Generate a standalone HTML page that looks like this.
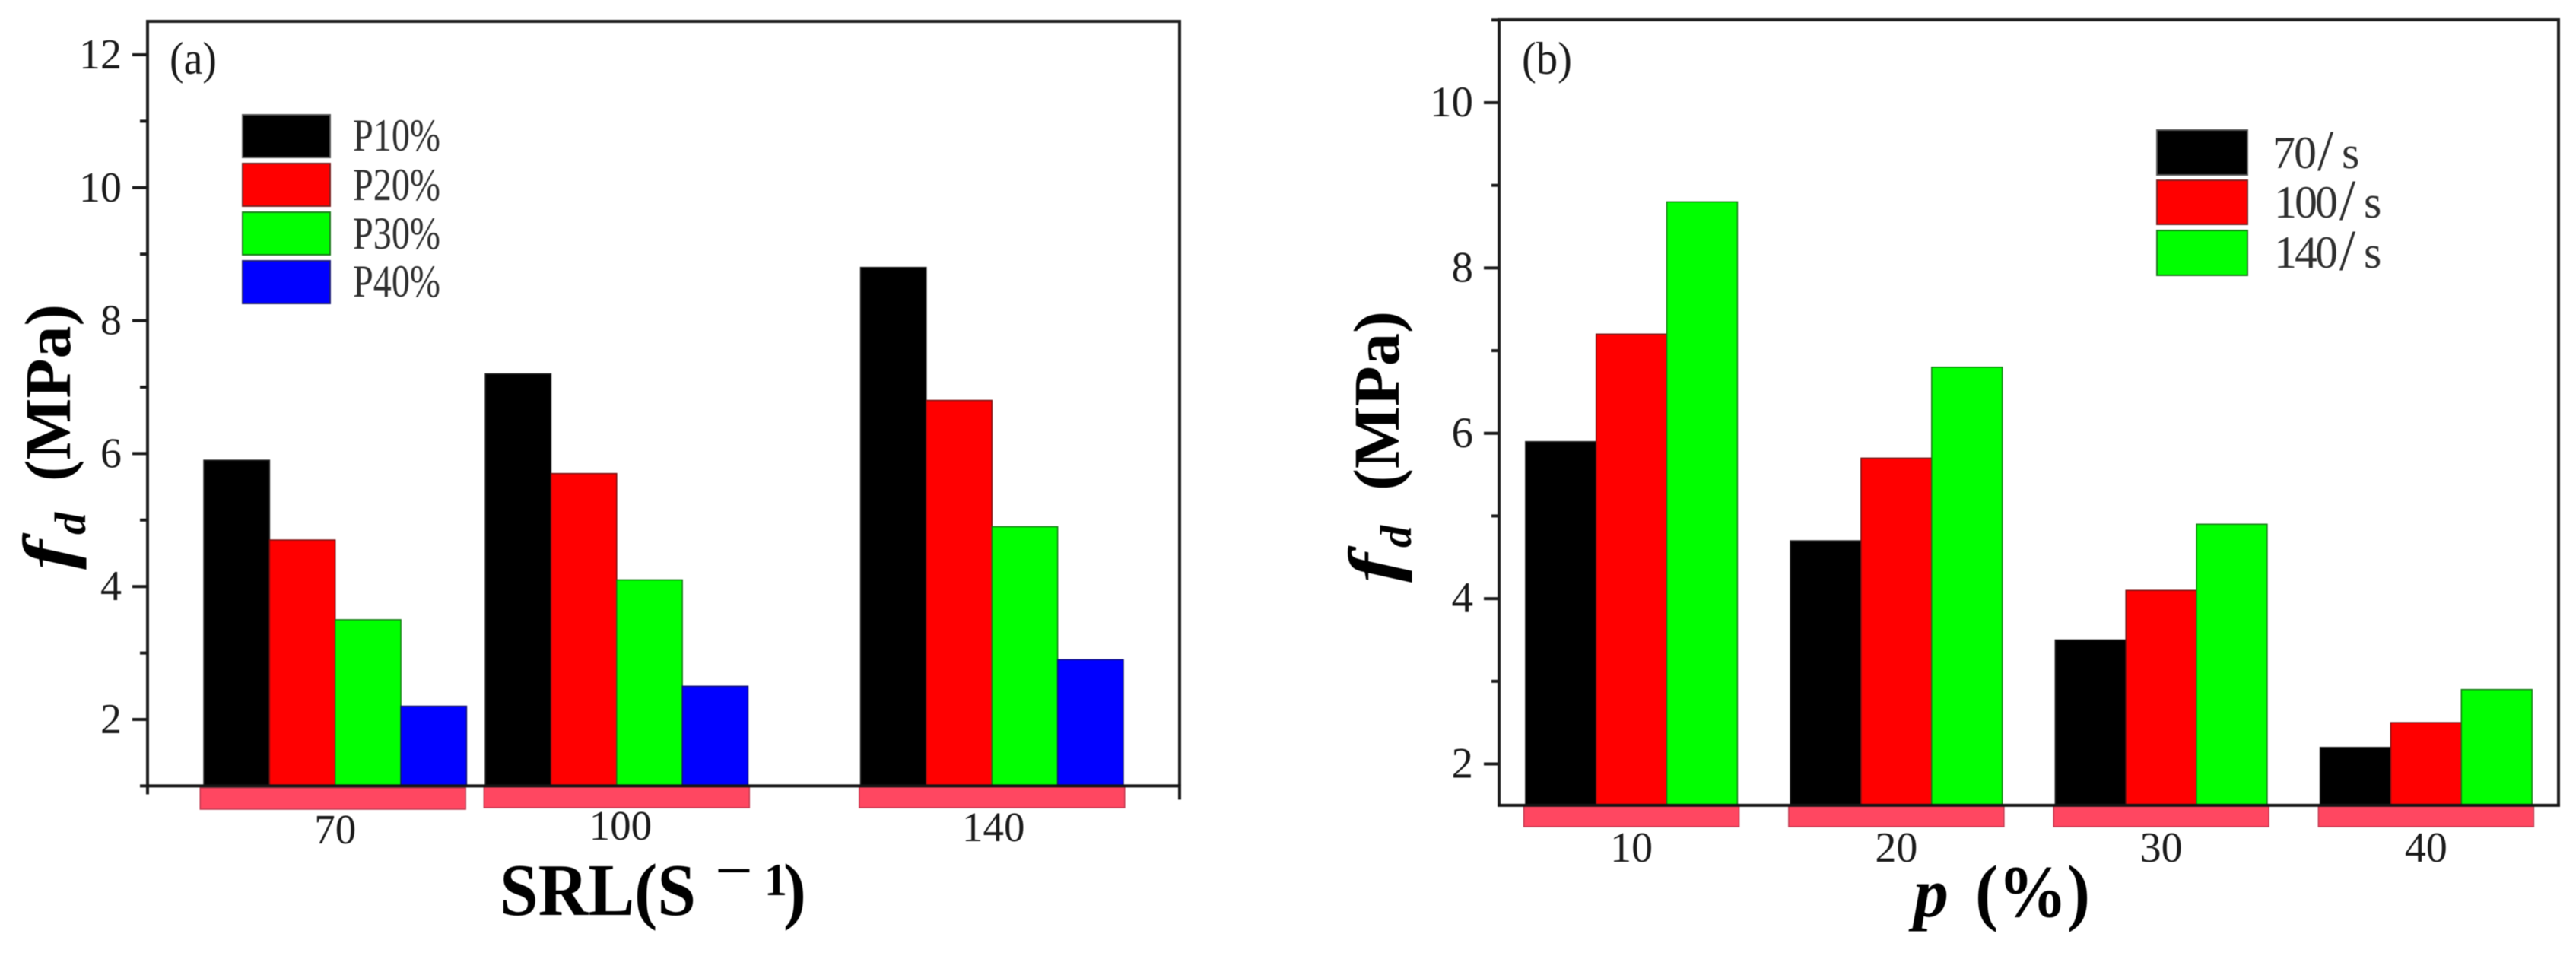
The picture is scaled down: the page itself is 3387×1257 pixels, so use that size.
<!DOCTYPE html>
<html lang="en">
<head>
<meta charset="utf-8">
<title>fd versus SRL and p bar charts</title>
<style>
html,body{margin:0;padding:0;background:#fff;width:3387px;height:1257px;overflow:hidden}
svg{display:block}
text{font-family:"Liberation Serif",serif;fill:#1a1a1a}
.legend-text{fill:#2e2e2e}
.bold{font-weight:bold;fill:#000}
.bolditalic{font-weight:bold;font-style:italic;fill:#000}
</style>
</head>
<body>
<svg id="fig" xmlns="http://www.w3.org/2000/svg" width="3387" height="1257" viewBox="0 0 3387 1257">
  <g id="root" style="filter:blur(0.6px)">
    <rect x="0" y="0" width="3387" height="1257" fill="#fff"/>
    <g id="panelA"></g>
    <g id="panelB"></g>

    <text x="223" y="97" font-size="60" textLength="62" lengthAdjust="spacingAndGlyphs">(a)</text>
    <text x="2001" y="97" font-size="60" textLength="66" lengthAdjust="spacingAndGlyphs">(b)</text>

    <g>
      <text class="bolditalic" transform="translate(94,749) rotate(-90) scale(1.27,1)" font-size="92">f</text>
      <text class="bolditalic" transform="translate(112,703) rotate(-90)" font-size="58">d</text>
      <text class="bold" transform="translate(92,633) rotate(-90)" font-size="86" textLength="233" lengthAdjust="spacingAndGlyphs">(MPa)</text>
    </g>
    <g>
      <text class="bolditalic" transform="translate(1837,766) rotate(-90) scale(1.27,1)" font-size="92">f</text>
      <text class="bolditalic" transform="translate(1855,720) rotate(-90)" font-size="58">d</text>
      <text class="bold" transform="translate(1839,645) rotate(-90)" font-size="86" textLength="236" lengthAdjust="spacingAndGlyphs">(MPa)</text>
    </g>

    <g>
      <text class="bold" x="657" y="1203" font-size="97" textLength="258" lengthAdjust="spacingAndGlyphs">SRL(S</text>
      <text x="940" y="1174" font-size="88" style="fill:#000">−</text>
      <text class="bold" x="1005" y="1177" font-size="60">1</text>
      <text class="bold" x="1030" y="1203" font-size="97" textLength="30" lengthAdjust="spacingAndGlyphs">)</text>
    </g>
    <g>
      <text class="bolditalic" x="2516" y="1205" font-size="92" textLength="46" lengthAdjust="spacingAndGlyphs">p</text>
      <text class="bold" x="2597" y="1205" font-size="97" textLength="151" lengthAdjust="spacingAndGlyphs">(%)</text>
    </g>

    <g>
      <rect x="319" y="151" width="115" height="56" fill="#000" stroke="#555" stroke-width="2"/>
      <text class="legend-text" x="464" y="198" font-size="60" textLength="115" lengthAdjust="spacingAndGlyphs">P10%</text>
      <rect x="319" y="215" width="115" height="56" fill="#f00" stroke="#7a2020" stroke-width="2"/>
      <text class="legend-text" x="464" y="263" font-size="60" textLength="115" lengthAdjust="spacingAndGlyphs">P20%</text>
      <rect x="319" y="279" width="115" height="56" fill="#0f0" stroke="#1c7a1c" stroke-width="2"/>
      <text class="legend-text" x="464" y="327" font-size="60" textLength="115" lengthAdjust="spacingAndGlyphs">P30%</text>
      <rect x="319" y="343" width="115" height="56" fill="#00f" stroke="#20207a" stroke-width="2"/>
      <text class="legend-text" x="464" y="390" font-size="60" textLength="115" lengthAdjust="spacingAndGlyphs">P40%</text>
    </g>

    <g>
      <rect x="2836" y="171" width="119" height="59" fill="#000" stroke="#555" stroke-width="2"/>
      <text class="legend-text" y="221" font-size="60"><tspan x="2988 3016">70</tspan><tspan x="3047" font-size="76" dy="3">/</tspan><tspan x="3079" dy="-3">s</tspan></text>
      <rect x="2836" y="237" width="119" height="58" fill="#f00" stroke="#7a2020" stroke-width="2"/>
      <text class="legend-text" y="286" font-size="60"><tspan x="2990 3017 3044">100</tspan><tspan x="3076" font-size="76" dy="3">/</tspan><tspan x="3108" dy="-3">s</tspan></text>
      <rect x="2836" y="303" width="119" height="59" fill="#0f0" stroke="#1c7a1c" stroke-width="2"/>
      <text class="legend-text" y="352" font-size="60"><tspan x="2990 3017 3044">140</tspan><tspan x="3076" font-size="76" dy="3">/</tspan><tspan x="3108" dy="-3">s</tspan></text>
    </g>
  </g>
</svg>
<script>
// Panel (a) data
const srlCategories = [70, 100, 140];
const p10Values = [5.9, 7.2, 8.8];
const p20Values = [4.7, 5.7, 6.8];
const p30Values = [3.5, 4.1, 4.9];
const p40Values = [2.2, 2.5, 2.9];
const panelAMajorTicks = [2, 4, 6, 8, 10, 12];
const panelAMinorTicks = [1, 3, 5, 7, 9, 11];

// Panel (b) data
const pCategories = [10, 20, 30, 40];
const rate70Values = [5.9, 4.7, 3.5, 2.2];
const rate100Values = [7.2, 5.7, 4.1, 2.5];
const rate140Values = [8.8, 6.8, 4.9, 2.9];
const panelBMajorTicks = [2, 4, 6, 8, 10];
const panelBMinorTicks = [3, 5, 7, 9, 11];

const NS = 'http://www.w3.org/2000/svg';

function linearScale(d0, d1, r0, r1) {
  return function (v) { return r0 + (v - d0) * (r1 - r0) / (d1 - d0); };
}

function make(parent, tag, attrs) {
  const el = document.createElementNS(NS, tag);
  for (const k in attrs) { el.setAttribute(k, attrs[k]); }
  parent.appendChild(el);
  return el;
}

function drawBands(g, categories, xScale, halfWidth, top, height, prefix, shiftFor) {
  categories.forEach(function (c, i) {
    const band = make(g, 'rect', {
      x: xScale(c) - halfWidth + shiftFor(i).dx,
      y: top + shiftFor(i).dy,
      width: halfWidth * 2,
      height: height,
      fill: '#ff4761',
      stroke: '#c23a50',
      'stroke-width': 1.5
    });
    
    
  });
}

function drawSeries(g, categories, values, seriesIndex, seriesCount, color, edge, xScale, yScale, barUnits, baseValue, prefix, seriesName) {
  categories.forEach(function (c, i) {
    const left = xScale(c + (seriesIndex - seriesCount / 2) * barUnits);
    const right = xScale(c + (seriesIndex + 1 - seriesCount / 2) * barUnits);
    const top = yScale(values[i]);
    const bar = make(g, 'rect', {
      x: left,
      y: top,
      width: right - left,
      height: yScale(baseValue) - top,
      fill: color,
      stroke: edge,
      'stroke-width': 1.5
    });
    
    
  });
}

function drawYAxis(g, ticks, minors, yScale, axisX, labelX, prefix, labelSize) {
  ticks.forEach(function (t) {
    const tick = make(g, 'line', { x1: axisX - 20, x2: axisX, y1: yScale(t), y2: yScale(t), stroke: '#1a1a1a', 'stroke-width': 4 });
    
    
    const label = make(g, 'text', { x: labelX, y: yScale(t) + 18, 'text-anchor': 'end', 'font-size': labelSize });
    label.textContent = String(t);
    
    
  });
  minors.forEach(function (t) {
    const tick = make(g, 'line', { x1: axisX - 10, x2: axisX, y1: yScale(t), y2: yScale(t), stroke: '#1a1a1a', 'stroke-width': 4 });
    
    
  });
}

function drawFrame(g, left, right, top, bottom, prefix) {
  const frame = make(g, 'path', {
    d: 'M' + left + ' ' + bottom + 'V' + top + 'H' + right + 'V' + bottom,
    fill: 'none',
    stroke: '#1f1f1f',
    'stroke-width': 4
  });
  
  
  const base = make(g, 'line', { x1: left - 2, x2: right + 2, y1: bottom, y2: bottom, stroke: '#141414', 'stroke-width': 4 });
  
  
}

/* ---------- Panel (a) ---------- */
(function () {
  const g = document.getElementById('panelA');
  const xA = linearScale(50, 160, 194, 1551);
  const yA = linearScale(2, 12, 946, 72);
  const baseValue = 1;
  const barUnits = 7;

  drawBands(g, srlCategories, xA, 174.5, 1034, 28, 'panel-a', function (i) {
    return i === 0 ? { dx: -3, dy: 2 } : { dx: 0, dy: 0 };
  });

  drawSeries(g, srlCategories, p10Values, 0, 4, '#000', '#222', xA, yA, barUnits, baseValue, 'panel-a', 'p10');
  drawSeries(g, srlCategories, p20Values, 1, 4, '#f00', '#7a1010', xA, yA, barUnits, baseValue, 'panel-a', 'p20');
  drawSeries(g, srlCategories, p30Values, 2, 4, '#0f0', '#147a14', xA, yA, barUnits, baseValue, 'panel-a', 'p30');
  drawSeries(g, srlCategories, p40Values, 3, 4, '#00f', '#10107a', xA, yA, barUnits, baseValue, 'panel-a', 'p40');

  drawFrame(g, 194, 1551, 28, yA(baseValue), 'panel-a');
  drawYAxis(g, panelAMajorTicks, panelAMinorTicks, yA, 194, 160, 'panel-a', 56);

  const leftTick = make(g, 'line', { x1: 194, x2: 194, y1: yA(baseValue), y2: yA(baseValue) + 11, stroke: '#1a1a1a', 'stroke-width': 4 });
  
  
  const rightTick = make(g, 'line', { x1: 1551, x2: 1551, y1: yA(baseValue), y2: yA(baseValue) + 18, stroke: '#1a1a1a', 'stroke-width': 4 });
  
  

  srlCategories.forEach(function (c, i) {
    const nudgeX = i === 1 ? 5 : (i === 2 ? 2 : 0);
    const baseline = i === 0 ? 1109 : (i === 1 ? 1104 : 1106);
    const label = make(g, 'text', { x: xA(c) + nudgeX, y: baseline, 'text-anchor': 'middle', 'font-size': 55 });
    label.textContent = String(c);
    
    
  });
})();

/* ---------- Panel (b) ---------- */
(function () {
  const g = document.getElementById('panelB');
  const xB = linearScale(5, 45, 1971, 3364);
  const yB = linearScale(2, 10, 1004.5, 135);
  const baseValue = 1.5;
  const barUnits = 8 / 3;

  drawBands(g, pCategories, xB, 141.5, 1058, 29, 'panel-b', function () {
    return { dx: 0, dy: 0 };
  });

  drawSeries(g, pCategories, rate70Values, 0, 3, '#000', '#222', xB, yB, barUnits, baseValue, 'panel-b', '70-per-s');
  drawSeries(g, pCategories, rate100Values, 1, 3, '#f00', '#7a1010', xB, yB, barUnits, baseValue, 'panel-b', '100-per-s');
  drawSeries(g, pCategories, rate140Values, 2, 3, '#0f0', '#147a14', xB, yB, barUnits, baseValue, 'panel-b', '140-per-s');

  drawFrame(g, 1971, 3364, 26, yB(baseValue), 'panel-b');
  drawYAxis(g, panelBMajorTicks, panelBMinorTicks, yB, 1971, 1937, 'panel-b', 57);

  pCategories.forEach(function (c) {
    const label = make(g, 'text', { x: xB(c), y: 1133, 'text-anchor': 'middle', 'font-size': 56 });
    label.textContent = String(c);
    
    
  });
})();
</script>
</body>
</html>
